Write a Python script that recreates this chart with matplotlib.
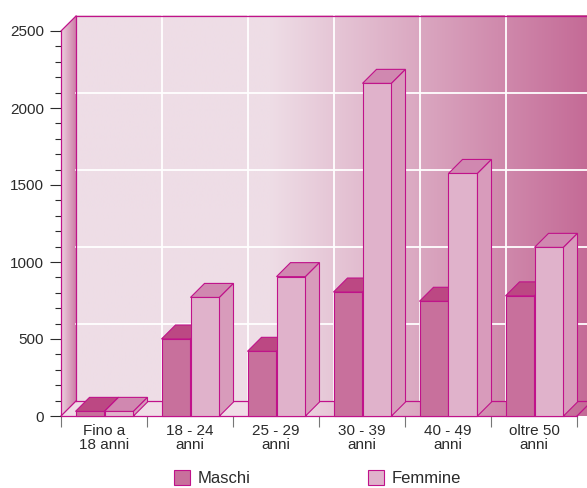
import numpy as np
import matplotlib
matplotlib.use("Agg")
import matplotlib.pyplot as plt
from matplotlib.patches import Polygon, Patch
from matplotlib.colors import to_rgb

categories = ["Fino a\n18 anni", "18 - 24\nanni", "25 - 29\nanni",
              "30 - 39\nanni", "40 - 49\nanni", "oltre 50\nanni"]
maschi = [30, 500, 420, 805, 745, 780]
femmine = [30, 770, 905, 2160, 1575, 1095]
series_names = ["Maschi", "Femmine"]
y_ticks = [0, 500, 1000, 1500, 2000, 2500]

plt.rcParams['font.family'] = ['Liberation Sans', 'DejaVu Sans']

W, H = 587, 488
fig = plt.figure(figsize=(W / 100, H / 100), dpi=100)
ax = fig.add_axes([61 / W, 72 / H, 516 / W, 385 / H])

# pixel -> data conversions for the fake 3d depth
sx = 6 / 516
sy = 2500 / 385
WDX, WDY = 15 * sx, 15 * sy
BDX, BDY = 14 * sx, 14 * sy
BOFF, BW = 14.5 * sx, 29 * sx
XR = 6.6
EDGE = '#c0128a'
TXT = '#2b2b2b'

front_cols = ['#c8709c', '#e0b2cb']
top_cols = ['#bc4883', '#d088b0']
side_cols = ['#c0608f', '#d89bbb']


def gradient(x0, x1, pale, dark, start_px, end_px, n=400):
    xs = np.linspace(x0, x1, n)
    px = 61 + xs / sx
    t = np.clip((px - start_px) / (end_px - start_px), 0, 1)[:, None]
    img = (1 - t) * np.array(to_rgb(pale)) + t * np.array(to_rgb(dark))
    return img[None, :, :]


# back wall
ax.imshow(gradient(WDX, XR, '#eedde6', '#c46a96', 270, 590),
          extent=[WDX, XR, WDY, 2500 + WDY], aspect='auto', origin='lower',
          interpolation='bilinear', clip_on=False, zorder=0)

# floor
floor = Polygon([(0, 0), (XR, 0), (XR + WDX, WDY), (WDX, WDY)],
                transform=ax.transData, fill=False, lw=0)
im = ax.imshow(gradient(0, XR, '#f0dde7', '#c46a96', 270, 590),
               extent=[0, XR, 0, WDY], aspect='auto', origin='lower',
               interpolation='bilinear', zorder=0.5)
im.set_clip_box(fig.bbox)
im.set_clip_path(floor)

# left side wall
side = Polygon([(0, 0), (WDX, WDY), (WDX, 2500 + WDY), (0, 2500)],
               transform=ax.transData, fill=False, lw=0)
im2 = ax.imshow(gradient(0, WDX, '#ecd0de', '#cd7fa8', 61, 76, n=50),
                extent=[0, WDX, 0, 2500 + WDY], aspect='auto', origin='lower',
                interpolation='bilinear', zorder=0.5)
im2.set_clip_box(fig.bbox)
im2.set_clip_path(side)

# white grid on the back wall
for i in range(1, len(categories)):
    ax.plot([i + WDX, i + WDX], [WDY, 2500 + WDY], color='white', lw=1.3,
            zorder=1, clip_on=False)
for v in y_ticks[1:-1]:
    ax.plot([WDX, XR], [v + WDY, v + WDY], color='white', lw=1.3,
            zorder=1, clip_on=False)

# magenta frame
lines = [
    ([WDX, XR], [2500 + WDY, 2500 + WDY]),
    ([0, WDX], [2500, 2500 + WDY]),
    ([WDX, WDX], [WDY, 2500 + WDY]),
    ([WDX, XR], [WDY, WDY]),
    ([0, WDX], [0, WDY]),
    ([6, 6 + WDX], [0, WDY]),
]
for xs_, ys_ in lines:
    ax.plot(xs_, ys_, color=EDGE, lw=0.9, zorder=1.5, clip_on=False)

# bars
for j, values in enumerate([maschi, femmine]):
    x0 = [i + BOFF + j * BW for i in range(len(categories))]
    z = 3 + j
    ax.bar(x0, values, width=BW, align='edge', color=front_cols[j],
           edgecolor=EDGE, linewidth=0.8, zorder=z, clip_on=False)
    for x, v in zip(x0, values):
        ax.add_patch(Polygon([(x, v), (x + BW, v), (x + BW + BDX, v + BDY),
                              (x + BDX, v + BDY)], closed=True,
                             fc=top_cols[j], ec=EDGE, lw=0.8, zorder=z,
                             clip_on=False))
        ax.add_patch(Polygon([(x + BW, 0), (x + BW + BDX, BDY),
                              (x + BW + BDX, v + BDY), (x + BW, v)],
                             closed=True, fc=side_cols[j], ec=EDGE, lw=0.8,
                             zorder=z, clip_on=False))

ax.set_xlim(0, 6)
ax.set_ylim(0, 2500)

for s in ['top', 'right']:
    ax.spines[s].set_visible(False)
for s in ['left', 'bottom']:
    ax.spines[s].set_color(EDGE)
    ax.spines[s].set_linewidth(0.9)
    ax.spines[s].set_zorder(2)

ax.set_yticks(y_ticks)
ax.set_yticks(np.arange(0, 2501, 100), minor=True)
ax.tick_params(axis='y', which='major', length=8, width=0.8, color=TXT,
               labelsize=11, labelcolor=TXT, pad=4)
ax.tick_params(axis='y', which='minor', length=4.3, width=0.8, color=TXT)

ax.set_xticks(range(len(categories) + 1))
ax.set_xticklabels([])
ax.set_xticks(np.arange(len(categories)) + 0.5, minor=True)
ax.set_xticklabels(categories, minor=True, fontsize=11, color=TXT,
                   linespacing=0.95)
ax.tick_params(axis='x', which='major', length=8, width=0.8, color='#777777')
ax.tick_params(axis='x', which='minor', length=0, pad=6)

handles = [Patch(fc=front_cols[j], ec=EDGE, lw=0.8) for j in range(2)]
fig.legend(handles, series_names, loc='center', bbox_to_anchor=(0.541, 0.02),
           ncol=2, frameon=False, fontsize=12, handlelength=0.96,
           handleheight=0.96, handletextpad=0.5, columnspacing=7.0,
           labelcolor=TXT, borderpad=0)

fig.savefig('out.png', dpi=100)
